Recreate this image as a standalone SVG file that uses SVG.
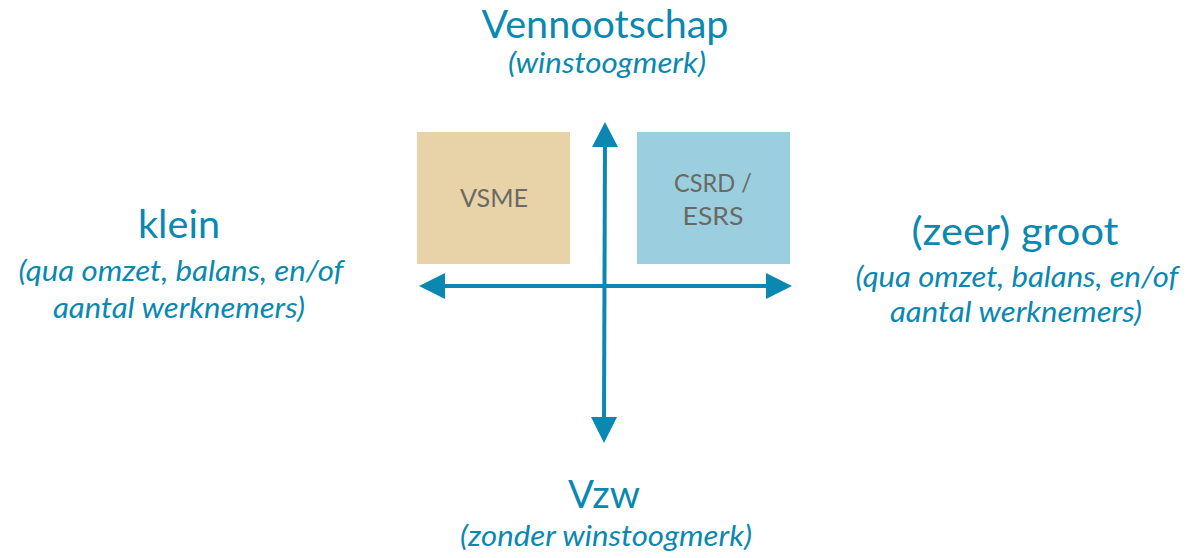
<svg xmlns="http://www.w3.org/2000/svg" width="1188" height="558" viewBox="0 0 1188 558">
<defs>
<style>
.t{font-family:Lato,"Open Sans","Liberation Sans",sans-serif;fill:#0A88B1;text-anchor:middle}
.h{font-size:38px}
.s{font-size:28px;font-style:italic}
.b{font-family:Lato,"Open Sans","Liberation Sans",sans-serif;fill:#6A6A62;font-size:25px;text-anchor:middle}
.ax{stroke:#0A88B1;stroke-width:4;fill:none}
.ah{fill:#0A88B1}
</style>
</defs>
<rect width="1188" height="558" fill="#ffffff"/>
<g id="connectors">
<line class="ax" x1="605" y1="140" x2="604" y2="420"/>
<polygon class="ah" points="605,122 592,147 618,147"/>
<polygon class="ah" points="604,443 591,417 617,417"/>
<line class="ax" x1="438" y1="286" x2="772" y2="286"/>
<polygon class="ah" points="419,286 445,273 445,299"/>
<polygon class="ah" points="792,286 766,273 766,299"/>
</g>
<g id="vsme">
<rect x="417" y="132" width="153" height="132" fill="#E8D3A9"/>
<text class="b" x="494" y="207" textLength="68" lengthAdjust="spacingAndGlyphs">VSME</text>
</g>
<g id="csrd">
<rect x="637" y="132" width="153" height="132" fill="#9BCFE0"/>
<text class="b" x="713" y="192" textLength="78" lengthAdjust="spacingAndGlyphs">CSRD /</text>
<text class="b" x="713" y="225" textLength="61" lengthAdjust="spacingAndGlyphs">ESRS</text>
</g>
<g id="top">
<text class="t h" x="605" y="38" textLength="247" lengthAdjust="spacingAndGlyphs">Vennootschap</text>
<text class="t s" x="607" y="73" textLength="198" lengthAdjust="spacingAndGlyphs">(winstoogmerk)</text>
</g>
<g id="left">
<text class="t h" x="179" y="238" textLength="82" lengthAdjust="spacingAndGlyphs">klein</text>
<text class="t s" x="181" y="281" textLength="325" lengthAdjust="spacingAndGlyphs">(qua omzet, balans, en/of</text>
<text class="t s" x="179" y="318" textLength="252" lengthAdjust="spacingAndGlyphs">aantal werknemers)</text>
</g>
<g id="right">
<text class="t h" x="1015" y="245" textLength="207" lengthAdjust="spacingAndGlyphs">(zeer) groot</text>
<text class="t s" x="1017" y="287" textLength="323" lengthAdjust="spacingAndGlyphs">(qua omzet, balans, en/of</text>
<text class="t s" x="1016" y="322" textLength="252" lengthAdjust="spacingAndGlyphs">aantal werknemers)</text>
</g>
<g id="bottom">
<text class="t h" x="604" y="508" textLength="72" lengthAdjust="spacingAndGlyphs">Vzw</text>
<text class="t s" x="606" y="546" textLength="292" lengthAdjust="spacingAndGlyphs">(zonder winstoogmerk)</text>
</g>
</svg>
